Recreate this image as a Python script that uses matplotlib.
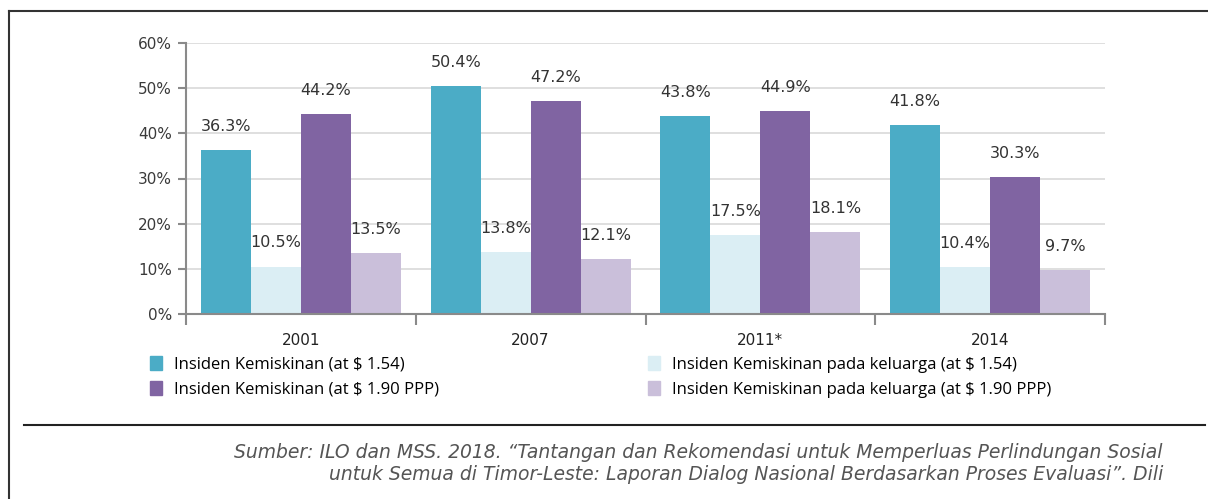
import matplotlib
matplotlib.use("Agg")
import matplotlib.pyplot as plt
from matplotlib.lines import Line2D
from matplotlib.patches import Patch
import numpy as np

years = ["2001", "2007", "2011*", "2014"]
series_names = [
    "Insiden Kemiskinan (at $ 1.54)",
    "Insiden Kemiskinan pada keluarga (at $ 1.54)",
    "Insiden Kemiskinan (at $ 1.90 PPP)",
    "Insiden Kemiskinan pada keluarga (at $ 1.90 PPP)",
]
pov_154 = [36.3, 50.4, 43.8, 41.8]
fam_154 = [10.5, 13.8, 17.5, 10.4]
pov_190 = [44.2, 47.2, 44.9, 30.3]
fam_190 = [13.5, 12.1, 18.1, 9.7]
yticks = [0, 10, 20, 30, 40, 50, 60]

colors = ["#4BACC6", "#DBEEF4", "#8064A2", "#CABFDA"]
series = [pov_154, fam_154, pov_190, fam_190]

W, H = 1208, 499
fig = plt.figure(figsize=(W / 100, H / 100), dpi=100)
ax = fig.add_axes([186 / W, 1 - 314 / H, (1105 - 186) / W, (314 - 43) / H])

x = np.arange(len(years))
bw = 0.2175
offs = [-1.5, -0.5, 0.5, 1.5]
for s, vals, c, o in zip(series_names, series, colors, offs):
    ax.bar(x + o * bw, vals, bw, color=c, label=s, zorder=2)
    for xi, v in zip(x + o * bw, vals):
        ax.annotate(f"{v:.1f}%", (xi, v), xytext=(0, 17), textcoords="offset points",
                    ha="center", va="center", fontsize=11.5, color="#333333",
                    family="DejaVu Sans")

ax.set_xlim(-0.5, 3.5)
ax.set_ylim(0, 60)
ax.set_yticks(yticks)
ax.set_yticklabels([f"{t}%" for t in yticks], fontsize=11, color="#3a3a3a")
ax.set_xticks(x)
ax.set_xticklabels(years, fontsize=11, color="#222222")
ax.set_xticks(np.arange(-0.5, 4.0, 1.0), minor=True)
ax.tick_params(axis="x", which="major", length=0, pad=14)
ax.tick_params(axis="x", which="minor", length=8, color="#8a8a8a", width=1.5)
ax.tick_params(axis="y", length=6, color="#8a8a8a", width=1.5, pad=4)
ax.grid(axis="y", color="#d9d9d9", linewidth=1.2, zorder=0)
ax.set_axisbelow(True)
for sp in ["top", "right"]:
    ax.spines[sp].set_visible(False)
for sp in ["left", "bottom"]:
    ax.spines[sp].set_color("#8a8a8a")
    ax.spines[sp].set_linewidth(1.5)

legprop = {"family": ["Open Sans", "DejaVu Sans"], "size": 12}
common = dict(loc="upper left", frameon=False, prop=legprop, handlelength=0.7,
              handleheight=0.9, handletextpad=0.75, labelspacing=0.5,
              borderaxespad=0, borderpad=0)
leg1 = fig.legend([Patch(color=colors[0]), Patch(color=colors[2])],
                  [series_names[0], series_names[2]],
                  bbox_to_anchor=(150 / W, 1 - 356 / H), **common)
leg2 = fig.legend([Patch(color=colors[1]), Patch(color=colors[3])],
                  [series_names[1], series_names[3]],
                  bbox_to_anchor=(648 / W, 1 - 356 / H), **common)

# frame lines
fig.add_artist(Line2D([9 / W, 9 / W], [0, 1 - 11 / H], color="#333333", lw=1.5))
fig.add_artist(Line2D([9 / W, 1], [1 - 11 / H, 1 - 11 / H], color="#333333", lw=1.5))
fig.add_artist(Line2D([24 / W, 1205 / W], [1 - 425 / H, 1 - 425 / H], color="#222222", lw=1.5))

src1 = "Sumber: ILO dan MSS. 2018. \u201cTantangan dan Rekomendasi untuk Memperluas Perlindungan Sosial"
src2 = "untuk Semua di Timor-Leste: Laporan Dialog Nasional Berdasarkan Proses Evaluasi\u201d. Dili"
for t, yy in [(src1, 452), (src2, 475)]:
    fig.text(1163 / W, 1 - yy / H, t, ha="right", va="center", fontsize=13.5,
             style="italic", family="DejaVu Sans", color="#555555")

fig.savefig("out.png", dpi=100)
